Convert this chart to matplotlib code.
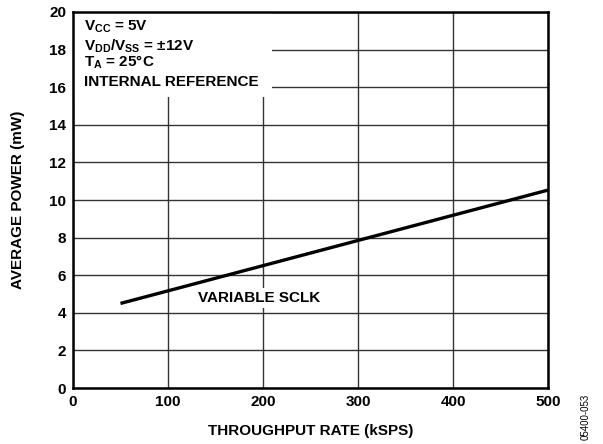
import numpy as np
import matplotlib
matplotlib.use("Agg")
import matplotlib.pyplot as plt
from matplotlib.patches import Rectangle

plt.rcParams['font.family'] = ['Liberation Sans', 'DejaVu Sans']
plt.rcParams['font.weight'] = 'bold'
plt.rcParams['mathtext.fontset'] = 'custom'
plt.rcParams['mathtext.rm'] = 'Liberation Sans:bold'
plt.rcParams['mathtext.it'] = 'Liberation Sans:bold'
plt.rcParams['mathtext.bf'] = 'Liberation Sans:bold'

# throughput rate (kSPS) vs average power (mW)
rate = [50, 100, 150, 200, 250, 300, 350, 400, 450, 500]
power = [4.50, 5.17, 5.84, 6.51, 7.18, 7.85, 8.52, 9.19, 9.86, 10.53]

xticks = [0, 100, 200, 300, 400, 500]
yticks = [0, 2, 4, 6, 8, 10, 12, 14, 16, 18, 20]

fs = 11

fig = plt.figure(figsize=(6.03, 4.44), dpi=100)
ax = fig.add_axes([0.121, 0.126, 0.788, 0.847])

ax.plot(rate, power, color='black', lw=2.4, zorder=4, solid_capstyle='butt')

ax.set_xlim(0, 500)
ax.set_ylim(0, 20)
ax.set_xticks(xticks)
ax.set_yticks(yticks)
ax.tick_params(length=0, labelsize=fs, pad=5)
ax.grid(True, color='#333333', lw=1.0, zorder=1)
ax.set_axisbelow(True)
for s in ax.spines.values():
    s.set_linewidth(1.8)
    s.set_zorder(5)

ax.set_xlabel('THROUGHPUT RATE (kSPS)', fontsize=fs, fontweight='bold', labelpad=11)
ax.set_ylabel('AVERAGE POWER (mW)', fontsize=fs, fontweight='bold', labelpad=17)

# white mask behind the condition block
ax.add_patch(Rectangle((0, 15.5), 209, 4.5, facecolor='white', edgecolor='none', zorder=2))

cond = [r'V$_{\mathrm{CC}}$ = 5V',
        r'V$_{\mathrm{DD}}$/V$_{\mathrm{SS}}$ = ±12V',
        r'T$_{\mathrm{A}}$ = 25°C',
        'INTERNAL REFERENCE']
cond_y = [19.2, 18.15, 17.3, 16.3]
for t, yy in zip(cond, cond_y):
    ax.text(12, yy, t, fontsize=fs, fontweight='bold', va='center', ha='left', zorder=3)

ax.text(196, 4.8, 'VARIABLE SCLK', fontsize=fs, fontweight='bold', ha='center', va='center',
        zorder=3, bbox=dict(facecolor='white', edgecolor='none', pad=2))

fig.text(0.972, 0.062, '05400-053', rotation=90, fontsize=7, fontweight='normal',
         ha='center', va='center')

fig.savefig('out.png', dpi=100)
